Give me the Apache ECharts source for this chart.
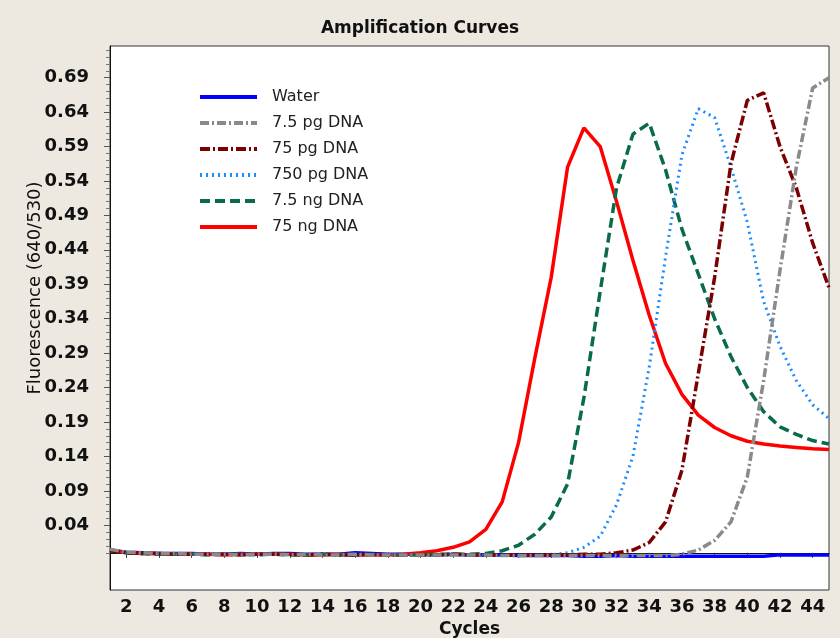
<!DOCTYPE html>
<html>
<head>
<meta charset="utf-8">
<script src="https://cdn.jsdelivr.net/npm/echarts@6/dist/echarts.min.js"></script>
<style>
    html, body { margin: 0; padding: 0; background: #ede9e1; }
    #chart { width: 840px; height: 638px; }
</style>
</head>
<body>
<div id="chart"></div>
<script>
let cycles = [1, 2, 3, 4, 5, 6, 7, 8, 9, 10, 11, 12, 13, 14, 15, 16, 17, 18, 19, 20,
    21, 22, 23, 24, 25, 26, 27, 28, 29, 30, 31, 32, 33, 34, 35, 36, 37, 38, 39, 40,
    41, 42, 43, 44, 45];

let yTicks = [0.04, 0.09, 0.14, 0.19, 0.24, 0.29, 0.34, 0.39, 0.44, 0.49, 0.54, 0.59, 0.64, 0.69];

let seriesNames = ["Water", "7.5 pg DNA", "75 pg DNA", "750 pg DNA", "7.5 ng DNA", "75 ng DNA"];

let water = [0.004, 0.001, 0.000, -0.001, -0.001, -0.001, -0.002, -0.002, -0.001, -0.002,
    -0.001, -0.001, -0.002, -0.002, -0.002, 0.000, -0.001, -0.002, -0.002, -0.002,
    -0.003, -0.002, -0.003, -0.003, -0.003, -0.004, -0.004, -0.004, -0.004, -0.005,
    -0.005, -0.004, -0.005, -0.005, -0.005, -0.005, -0.005, -0.005, -0.005, -0.005,
    -0.005, -0.003, -0.003, -0.003, -0.003];

let pg7_5 = [0.005, 0.001, 0.000, -0.001, -0.001, -0.002, -0.002, -0.002, -0.003, -0.002,
    -0.002, -0.003, -0.002, -0.003, -0.003, -0.002, -0.003, -0.003, -0.003, -0.003,
    -0.003, -0.003, -0.003, -0.003, -0.004, -0.004, -0.004, -0.004, -0.004, -0.004,
    -0.004, -0.004, -0.004, -0.004, -0.004, -0.002, 0.004, 0.018, 0.045, 0.110,
    0.250, 0.410, 0.560, 0.675, 0.690];

let pg75 = [0.003, 0.000, -0.001, -0.001, -0.002, -0.002, -0.002, -0.002, -0.003, -0.002,
    -0.002, -0.002, -0.003, -0.002, -0.003, -0.003, -0.002, -0.003, -0.003, -0.003,
    -0.003, -0.002, -0.003, -0.003, -0.003, -0.003, -0.003, -0.003, -0.003, -0.002,
    -0.002, 0.000, 0.004, 0.015, 0.045, 0.120, 0.260, 0.400, 0.565, 0.657,
    0.668, 0.590, 0.530, 0.450, 0.385];

let pg750 = [0.003, 0.000, -0.001, -0.001, -0.002, -0.002, -0.002, -0.003, -0.002, -0.003,
    -0.002, -0.002, -0.003, -0.002, -0.003, -0.003, -0.003, -0.002, -0.003, -0.003,
    -0.003, -0.003, -0.004, -0.003, -0.004, -0.004, -0.004, -0.003, 0.000, 0.008,
    0.024, 0.070, 0.140, 0.270, 0.430, 0.578, 0.645, 0.632, 0.560, 0.480,
    0.365, 0.300, 0.250, 0.215, 0.195];

let ng7_5 = [0.003, 0.000, -0.001, -0.002, -0.002, -0.002, -0.003, -0.002, -0.002, -0.003,
    -0.002, -0.003, -0.003, -0.002, -0.003, -0.003, -0.002, -0.003, -0.003, -0.003,
    -0.002, -0.002, -0.002, -0.001, 0.003, 0.011, 0.027, 0.052, 0.100, 0.225,
    0.380, 0.530, 0.608, 0.624, 0.556, 0.470, 0.405, 0.340, 0.285, 0.240,
    0.205, 0.183, 0.172, 0.163, 0.158];

let ng75 = [0.004, 0.000, -0.001, -0.001, -0.002, -0.002, -0.002, -0.003, -0.002, -0.002,
    -0.002, -0.002, -0.003, -0.003, -0.002, -0.003, -0.003, -0.003, -0.002, 0.000,
    0.003, 0.008, 0.016, 0.034, 0.074, 0.160, 0.283, 0.400, 0.560, 0.617,
    0.590, 0.510, 0.425, 0.345, 0.275, 0.230, 0.200, 0.182, 0.170, 0.162,
    0.158, 0.155, 0.153, 0.151, 0.150];

// 次刻度 每 0.01 一个
let minorTicks = [];
for (let i = 0; i <= 73; i++) {
    let v = i / 100;
    if (yTicks.indexOf(v) < 0) minorTicks.push(v);
}

let myChart = echarts.init(document.getElementById('chart'));

function line(name, data, color, type, width, z) {
    return {
        name: name,
        type: 'line',
        data: data,
        symbol: 'none',
        z: z,
        animation: false,
        lineStyle: {color: color, width: width, type: type},
        itemStyle: {color: color}
    };
}

let option = {
    backgroundColor: '#ede9e1',
    animation: false,
    title: {
        text: 'Amplification Curves',
        left: 'center',
        top: 15,
        textStyle: {fontFamily: 'DejaVu Sans', fontWeight: 'bold', fontSize: 17, color: '#111'}
    },
    legend: {
        orient: 'vertical',
        left: 198,
        top: 89,
        padding: 0,
        itemWidth: 57,
        itemHeight: 14,
        itemGap: 10,
        data: seriesNames,
        // 图例里不要圆点，只要线
        itemStyle: {opacity: 0},
        lineStyle: {width: 4},
        textStyle: {fontFamily: 'DejaVu Sans', fontSize: 16, color: '#222', padding: [0, 0, 0, 10]}
    },
    grid: {
        left: 110, right: 11, top: 46, bottom: 48,
        show: true, backgroundColor: '#fff', borderColor: '#333', borderWidth: 1,
        outerBoundsMode: 'none'
    },
    xAxis: {
        type: 'category',
        data: cycles,
        boundaryGap: false,
        name: 'Cycles',
        nameLocation: 'middle',
        nameGap: 29,
        nameTextStyle: {fontFamily: 'DejaVu Sans', fontWeight: 'bold', fontSize: 17, color: '#111'},
        axisLine: {lineStyle: {color: '#111', width: 1}},
        axisTick: {
            length: 5,
            interval: function (idx, val) { return Number(val) % 2 === 0; },
            lineStyle: {color: '#333'}
        },
        axisLabel: {
            margin: 8,
            interval: function (idx, val) { return Number(val) % 2 === 0; },
            fontFamily: 'DejaVu Sans', fontWeight: 'bold', fontSize: 18, color: '#111'
        },
        splitLine: {show: false}
    },
    yAxis: [{
        type: 'value',
        min: -0.054,
        max: 0.736,
        name: 'Fluorescence (640/530)',
        nameLocation: 'middle',
        nameGap: 66,
        nameMoveOverlap: false,
        nameTextStyle: {fontFamily: 'DejaVu Sans', fontSize: 18, color: '#111', padding: [0, 0, 0, 60]},
        axisLine: {show: true, lineStyle: {color: '#111', width: 1}},
        axisTick: {show: true, length: 6, customValues: yTicks, lineStyle: {color: '#555'}},
        axisLabel: {
            customValues: yTicks,
            margin: 21,
            formatter: function (v) { return v.toFixed(2); },
            fontFamily: 'DejaVu Sans', fontWeight: 'bold', fontSize: 18, color: '#111'
        },
        splitLine: {show: false}
    }, {
        type: 'value',
        position: 'left',
        min: -0.054,
        max: 0.736,
        axisLine: {show: false},
        axisTick: {show: true, length: 4, customValues: minorTicks, lineStyle: {color: '#777'}},
        axisLabel: {show: false},
        splitLine: {show: false}
    }],
    series: [
        line(seriesNames[0], water, '#0000ff', 'solid', 3.5, 2),
        line(seriesNames[1], pg7_5, '#8a8a8a', [9, 3, 2, 3], 3.5, 7),
        line(seriesNames[2], pg75, '#7c0000', [10, 3, 2, 3], 3.5, 6),
        line(seriesNames[3], pg750, '#1b8cff', [2, 4], 3, 5),
        line(seriesNames[4], ng7_5, '#0a6b4c', [10, 5], 3.5, 4),
        line(seriesNames[5], ng75, '#ff0000', 'solid', 3.5, 3)
    ]
};
myChart.setOption(option);
</script>
</body>
</html>
